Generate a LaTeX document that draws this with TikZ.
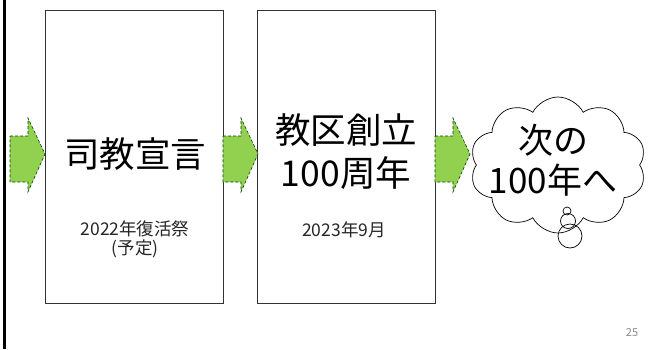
\documentclass[tikz,border=0pt]{standalone}
\usepackage{fontspec}
\setmainfont{Noto Sans CJK JP}
\usetikzlibrary{shapes.symbols}
\tikzset{
  panel/.style={draw=black!80, line width=0.8pt, fill=white},
  bigtxt/.style={font=\fontsize{35.5}{43}\selectfont, align=center, inner sep=0pt},
  smalltxt/.style={font=\fontsize{17.5}{19}\selectfont, align=center, inner sep=0pt, text=black!85},
  garrow/.style={fill={rgb,255:red,146;green,208;blue,80}, draw=black!75!green, densely dashed, line width=0.6pt},
  bubble/.style={draw=black, line width=0.7pt}
}
\begin{document}
\begin{tikzpicture}[x=1pt,y=-1pt]
\useasboundingbox (0,0) rectangle (648,349);
\fill[white] (0,0) rectangle (648,349);
% left rule
\draw[line width=2.5pt] (4.5,0) coordinate (lt) -- (4.5,349) coordinate (lb);
% panels
\node[panel, minimum width=178pt, minimum height=293pt, anchor=north west] (p1) at (45,10) {};
\node[panel, minimum width=178pt, minimum height=293pt, anchor=north west] (p2) at (257,10) {};
% arrows
\foreach \n/\x in {a1/10, a2/223, a3/435}{
  \draw[garrow] (\x,136) -- (\x+18,136) -- (\x+18,118) -- (\x+35,154) -- (\x+18,192) -- (\x+18,182) -- (\x,182) -- cycle;
}
% texts
\node[bigtxt] (t1) at (135,154) {司教宣言};
\node[smalltxt] (s1) at (135,239) {2022年復活祭\\(予定)};
\node[bigtxt] (t2) at (346,152) {教区創立\\100周年};
\node[smalltxt] (s2) at (344,230) {2023年9月};
% cloud
\node[cloud, draw=black, line width=0.7pt, cloud puffs=10, cloud puff arc=125, aspect=1.3, minimum width=176pt, minimum height=136pt, inner sep=0pt] (cl) at (558,165) {};
\node[bigtxt, font=\fontsize{35}{40}\selectfont] (t3) at (553,160) {次の\\100年へ};
\draw[bubble] (567,211) circle (4);
\draw[bubble] (568,221) circle (7.5);
\draw[bubble] (570,236) circle (12);
% page number
\node[font=\fontsize{11}{13}\selectfont, text=black!45, inner sep=0pt] (pg) at (632,333) {25};
\end{tikzpicture}
\end{document}
